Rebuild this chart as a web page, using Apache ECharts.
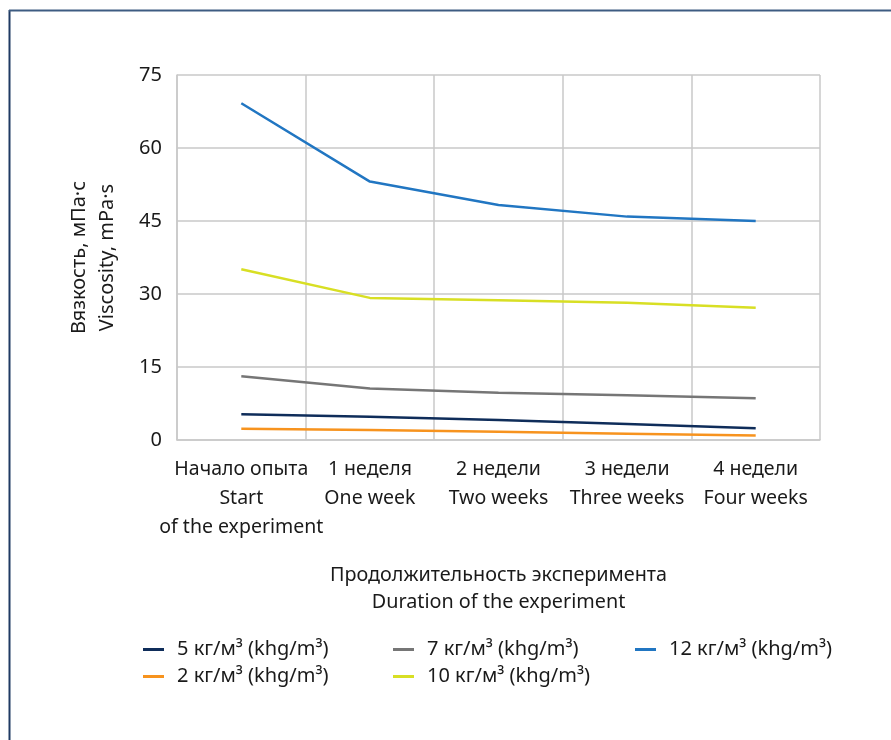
<!DOCTYPE html>
<html>
<head>
<meta charset="utf-8">
<script src="https://cdn.jsdelivr.net/npm/echarts@6/dist/echarts.min.js"></script>
<style>
  html, body { margin: 0; padding: 0; background: #ffffff; }
  #chart { width: 891px; height: 740px; }
</style>
</head>
<body>
<div id="chart"></div>
<script>
// Time points of the experiment (Russian / English)
const categories = [
  'Начало опыта\nStart\nof the experiment',
  '1 неделя\nOne week',
  '2 недели\nTwo weeks',
  '3 недели\nThree weeks',
  '4 недели\nFour weeks'
];

// Viscosity, mPa·s, per dosage
const visc5 = [5.3, 4.8, 4.1, 3.3, 2.4];
const visc2 = [2.3, 2.05, 1.7, 1.3, 0.9];
const visc7 = [13.1, 10.6, 9.7, 9.2, 8.6];
const visc10 = [35.1, 29.2, 28.7, 28.2, 27.2];
const visc12 = [69.2, 53.1, 48.3, 45.9, 45.0];

const yTicks = [0, 15, 30, 45, 60, 75];

const name5 = '5 кг/м³ (khg/m³)';
const name2 = '2 кг/м³ (khg/m³)';
const name7 = '7 кг/м³ (khg/m³)';
const name10 = '10 кг/м³ (khg/m³)';
const name12 = '12 кг/м³ (khg/m³)';

const FONT = 'Noto Sans';
const TEXT = '#1a1a1a';
const GRID = '#c9c9c9';

function line(name, data, color) {
  return {
    name: name,
    type: 'line',
    data: data,
    symbol: 'none',
    lineStyle: { color: color, width: 2.5 },
    itemStyle: { color: color },
    animation: false
  };
}

function legendCol(left, items) {
  return {
    orient: 'vertical',
    left: left,
    top: 634,
    data: items,
    icon: 'rect',
    itemWidth: 21,
    itemHeight: 3,
    itemGap: 6,
    textStyle: { fontFamily: FONT, fontSize: 20, color: TEXT, padding: [0, 0, 0, 8], lineHeight: 21 }
  };
}

const chart = echarts.init(document.getElementById('chart'), null, { renderer: 'canvas' });
chart.setOption({
  backgroundColor: '#ffffff',
  animation: false,
  textStyle: { fontFamily: FONT },
  grid: { left: 177, top: 75, width: 643, height: 365, containLabel: false },
  xAxis: {
    type: 'category',
    data: categories,
    boundaryGap: true,
    axisLine: { show: true, lineStyle: { color: GRID, width: 1.5 } },
    axisTick: { show: false },
    splitLine: { show: true, lineStyle: { color: GRID, width: 1.5 } },
    axisLabel: { interval: 0, margin: 15, fontSize: 19.5, lineHeight: 29, color: TEXT, fontFamily: FONT },
    name: 'Продолжительность эксперимента\nDuration of the experiment',
    nameLocation: 'middle',
    nameGap: 122,
    nameTextStyle: { fontSize: 19.8, lineHeight: 27, color: TEXT, fontFamily: FONT }
  },
  yAxis: {
    type: 'value',
    min: yTicks[0],
    max: yTicks[yTicks.length - 1],
    interval: yTicks[1] - yTicks[0],
    axisLine: { show: true, lineStyle: { color: GRID, width: 1.5 } },
    axisTick: { show: false },
    splitLine: { show: true, lineStyle: { color: GRID, width: 1.5 } },
    axisLabel: { margin: 15, fontSize: 20, color: TEXT, fontFamily: FONT },
    name: 'Вязкость, мПа·с\nViscosity, mPa·s',
    nameLocation: 'middle',
    nameRotate: 90,
    nameGap: 56,
    nameTextStyle: { fontSize: 20, lineHeight: 28, color: TEXT, fontFamily: FONT }
  },
  legend: [
    legendCol(138, [name5, name2]),
    legendCol(388, [name7, name10]),
    legendCol(630, [name12])
  ],
  series: [
    line(name5, visc5, '#0f2d5a'),
    line(name2, visc2, '#f7931e'),
    line(name7, visc7, '#767676'),
    line(name10, visc10, '#d8df24'),
    line(name12, visc12, '#2176c2')
  ],
  graphic: [
    { type: 'line', shape: { x1: 9.5, y1: 10, x2: 9.5, y2: 740 }, style: { stroke: '#1f3a63', lineWidth: 2 }, silent: true },
    { type: 'line', shape: { x1: 9, y1: 10.5, x2: 891, y2: 10.5 }, style: { stroke: '#3e5c82', lineWidth: 2 }, silent: true }
  ]
});
</script>
</body>
</html>
